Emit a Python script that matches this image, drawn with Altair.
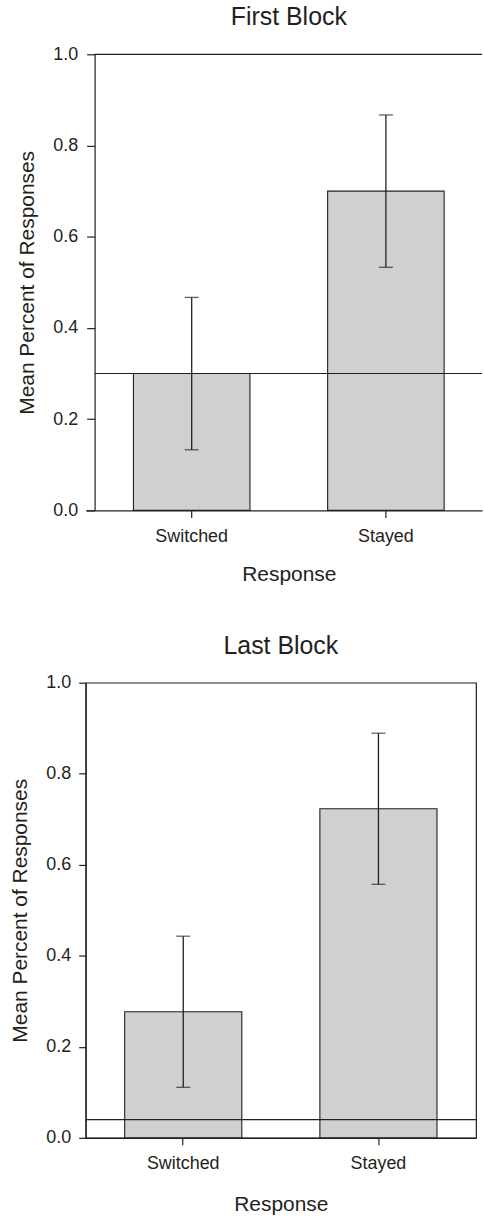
import altair as alt
import pandas as pd

responses = ["Switched", "Stayed"]

first_title = "First Block"
first_means = [0.30, 0.70]
first_lo = [0.133, 0.533]
first_hi = [0.467, 0.867]
first_ref = [0.30]

last_title = "Last Block"
last_means = [0.277, 0.723]
last_lo = [0.111, 0.557]
last_hi = [0.443, 0.889]
last_ref = [0.04]

y_ticks = [0.0, 0.2, 0.4, 0.6, 0.8, 1.0]

FONT = "Liberation Sans"
INK = "#231f20"
BAR_FILL = "#cfd0d2"
YTITLE = "Mean Percent of Responses"


def panel(title, means, lo, hi, ref, width, height, ytick, ylabpad, ytitlepad,
          xtitlepad, shift=0, title_dx=0, xtitle_x=None, scale_opts=None,
          framed=True):
    df = pd.DataFrame({"Response": responses, "Mean": means, "lo": lo, "hi": hi})
    refdf = pd.DataFrame({"ref": ref})

    xaxis_kw = dict(labelAngle=0, tickSize=7, labelPadding=10,
                    titlePadding=xtitlepad, domainColor=INK, tickColor=INK,
                    labelColor=INK, titleColor=INK, labelFontSize=18,
                    titleFontSize=21, labelFont=FONT, titleFont=FONT,
                    titleFontWeight="normal", domainWidth=1.2, tickWidth=1.2)
    if xtitle_x is not None:
        xaxis_kw["titleX"] = xtitle_x
    xenc = alt.X(
        "Response:N",
        sort=responses,
        title="Response",
        scale=alt.Scale(**(scale_opts or dict(paddingInner=0.4, paddingOuter=0.2))),
        axis=alt.Axis(**xaxis_kw),
    )
    yaxis_kw = dict(values=y_ticks, format=".1f", grid=False, tickSize=ytick,
                    labelPadding=ylabpad, titlePadding=ytitlepad,
                    domainColor=INK, tickColor=INK, labelColor=INK,
                    titleColor=INK, labelFontSize=18, titleFontSize=21,
                    labelFont=FONT, titleFont=FONT, titleFontWeight="normal",
                    domainWidth=1.2, tickWidth=1.2)
    if shift:
        yaxis_kw["offset"] = -shift
    yaxis = alt.Axis(**yaxis_kw)
    yscale = alt.Scale(domain=[0, 1], nice=False, zero=True)

    def y(field):
        return alt.Y(field, type="quantitative", title=YTITLE, scale=yscale, axis=yaxis)

    base = alt.Chart(df)
    bars = base.mark_bar(fill=BAR_FILL, stroke=INK, strokeWidth=1.1).encode(
        x=xenc, y=y("Mean")
    )
    err = base.mark_rule(color=INK, strokeWidth=1.3).encode(
        x=xenc, y=y("lo"), y2="hi"
    )
    cap_lo = base.mark_tick(color=INK, size=14, thickness=1.3).encode(x=xenc, y=y("lo"))
    cap_hi = base.mark_tick(color=INK, size=14, thickness=1.3).encode(x=xenc, y=y("hi"))
    refline = alt.Chart(refdf).mark_rule(color=INK, strokeWidth=1.1).encode(
        y=y("ref"), x=alt.value(shift), x2=alt.value(width)
    )

    layers = [bars, refline, err, cap_lo, cap_hi]
    if not framed:
        border = alt.Chart(refdf).mark_rule(color=INK, strokeWidth=1.2).encode(
            x=alt.value(shift), x2=alt.value(width), y=alt.value(0)
        )
        layers.append(border)

    props = dict(
        width=width,
        height=height,
        title=alt.TitleParams(title, fontSize=25, fontWeight="normal", font=FONT,
                              color=INK, anchor="middle", offset=15, dx=title_dx),
    )
    if not framed:
        props["view"] = alt.ViewBackground(stroke="transparent")
    return alt.layer(*layers).properties(**props)


top = panel(first_title, first_means, first_lo, first_hi, first_ref,
            398, 458, 8, 9, 15, 18, shift=9, title_dx=5, xtitle_x=204,
            scale_opts=dict(paddingInner=0.4, paddingOuter=0.2205, align=0.558),
            framed=False)
bottom = panel(last_title, last_means, last_lo, last_hi, last_ref,
               392, 457, 7, 8, 15, 21)

chart = alt.concat(top, bottom, columns=1, spacing=48).properties(
    padding={"left": 9, "top": 2, "right": 0, "bottom": 0},
    background="white",
).configure_view(stroke=INK, strokeWidth=1.2)

chart.save("out.html", embed_options={"renderer": "svg", "actions": False})
